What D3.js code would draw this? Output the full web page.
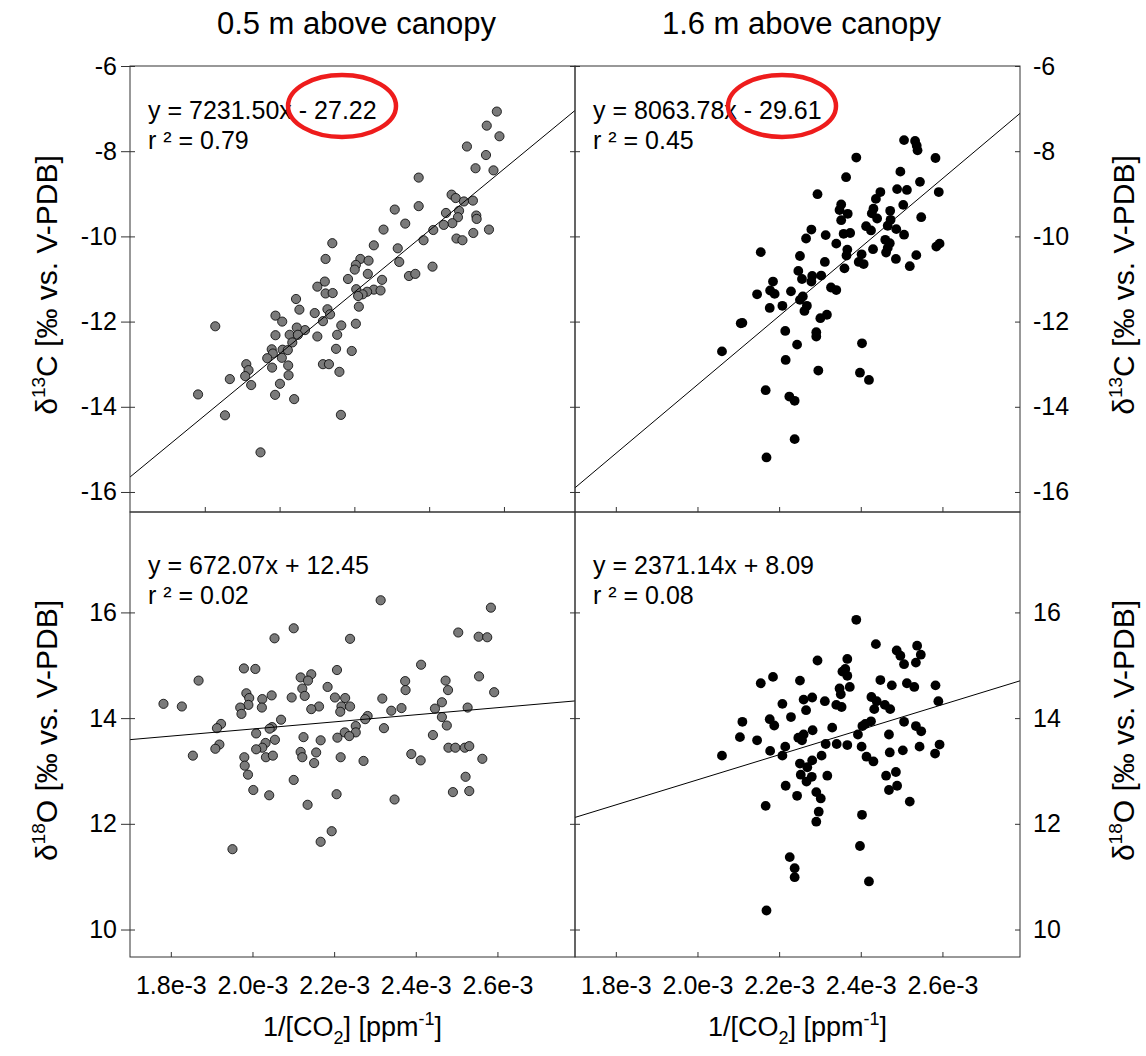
<!DOCTYPE html>
<html>
<head>
<meta charset="utf-8">
<style>
  body { margin: 0; background: #fff; }
  svg text { font-family: "Liberation Sans", Arial, sans-serif; fill: #000; }
</style>
</head>
<body>
<svg id="chart"></svg>

<script src="https://d3js.org/d3.v7.min.js"></script>

<script>
// x values: 1/[CO2] in units of 1e-3 ppm^-1
const invCo2C05 = [2.581,2.554,2.588,2.501,2.552,2.524,2.572,2.372,2.460,2.471,2.493,2.517,2.372,2.308,2.445,2.480,2.526,2.527,2.477,2.462,2.439,2.336,2.278,2.411,2.560,2.518,2.473,2.489,2.385,2.141,2.252,2.316,2.123,2.216,2.238,2.204,2.201,2.320,2.409,2.236,2.346,2.363,2.183,2.274,2.121,2.101,2.205,2.252,2.270,2.123,2.142,2.234,2.222,2.210,2.044,2.053,2.128,2.212,2.094,2.135,1.989,2.007,2.116,2.204,2.165,2.068,2.046,1.989,2.027,2.049,2.101,2.154,2.034,1.828,1.979,2.008,2.022,2.151,2.193,1.982,1.967,2.006,1.911,2.023,2.116,2.132,1.980,1.917,2.160,1.908,2.024,1.867,1.924,2.001,1.782,1.988,2.039,1.854,2.164,1.949];
const d13C05 = [-7.07,-7.40,-7.65,-7.89,-8.09,-8.40,-8.45,-8.62,-9.02,-9.10,-9.18,-9.16,-9.29,-9.37,-9.45,-9.40,-9.51,-9.59,-9.55,-9.69,-9.73,-9.70,-9.84,-9.85,-9.84,-9.92,-10.05,-10.09,-10.09,-10.16,-10.21,-10.28,-10.53,-10.53,-10.57,-10.67,-10.78,-10.60,-10.71,-10.88,-10.93,-10.88,-11.00,-11.02,-11.06,-11.18,-11.24,-11.25,-11.27,-11.34,-11.33,-11.30,-11.36,-11.40,-11.47,-11.72,-11.71,-11.65,-11.80,-11.83,-11.86,-12.00,-11.99,-12.05,-12.09,-12.20,-12.14,-12.32,-12.31,-12.31,-12.35,-12.31,-12.49,-12.11,-12.65,-12.66,-12.67,-12.64,-12.69,-12.75,-12.86,-12.85,-13.00,-13.03,-13.00,-13.00,-13.08,-13.14,-13.18,-13.28,-13.26,-13.35,-13.49,-13.46,-13.71,-13.72,-13.82,-14.20,-14.19,-15.07];

const invCo2C16 = [2.506,2.533,2.537,2.539,2.389,2.583,2.497,2.364,2.545,2.489,2.513,2.591,2.448,2.294,2.437,2.352,2.504,2.431,2.348,2.368,2.472,2.427,2.440,2.352,2.473,2.548,2.466,2.413,2.425,2.487,2.279,2.358,2.374,2.314,2.506,2.266,2.460,2.471,2.340,2.585,2.593,2.367,2.430,2.466,2.155,2.251,2.402,2.462,2.365,2.536,2.486,2.312,2.395,2.407,2.360,2.520,2.247,2.303,2.281,2.256,2.185,2.279,2.178,2.229,2.189,2.146,2.327,2.340,2.258,2.251,2.208,2.177,2.268,2.262,2.317,2.301,2.106,2.110,2.215,2.291,2.291,2.403,2.244,2.060,2.216,2.296,2.398,2.420,2.167,2.225,2.238,2.238,2.169];
const d13C16 = [-7.74,-7.76,-7.87,-7.98,-8.15,-8.16,-8.48,-8.61,-8.72,-8.89,-8.91,-8.96,-8.96,-9.01,-9.12,-9.25,-9.26,-9.35,-9.38,-9.47,-9.40,-9.46,-9.58,-9.62,-9.61,-9.55,-9.75,-9.76,-9.86,-9.83,-9.84,-9.94,-9.92,-9.97,-9.96,-10.05,-10.08,-10.16,-10.17,-10.24,-10.17,-10.31,-10.30,-10.27,-10.37,-10.46,-10.42,-10.38,-10.45,-10.44,-10.53,-10.60,-10.60,-10.65,-10.75,-10.70,-10.81,-10.92,-10.93,-11.00,-11.06,-11.06,-11.27,-11.29,-11.35,-11.36,-11.20,-11.26,-11.41,-11.49,-11.63,-11.68,-11.63,-11.75,-11.84,-11.92,-12.04,-12.03,-12.22,-12.25,-12.35,-12.51,-12.54,-12.70,-12.90,-13.15,-13.20,-13.37,-13.61,-13.76,-13.86,-14.76,-15.19];

const invCo2O05 = [2.314,2.584,2.101,2.504,2.054,2.239,2.554,2.575,2.413,1.979,2.007,2.207,2.555,2.144,2.118,2.136,1.868,2.374,2.473,2.184,2.122,2.375,2.479,1.985,2.592,2.128,2.047,2.096,1.992,2.024,2.202,2.227,2.318,1.782,1.827,1.990,1.970,2.023,2.163,2.144,2.218,2.239,2.215,2.464,2.447,2.527,2.365,2.340,1.973,2.070,2.282,2.276,2.464,1.923,1.913,2.048,2.042,2.253,2.322,2.476,2.009,2.226,2.253,2.237,2.125,2.208,2.167,2.055,2.442,1.919,2.032,2.024,2.009,1.909,2.480,2.497,2.520,2.531,2.118,2.156,1.854,1.980,2.033,2.050,2.122,2.216,2.389,2.412,2.272,2.563,2.151,1.981,1.989,2.522,2.101,2.002,2.491,2.531,2.041,2.206,2.348,2.135,2.194,2.167,1.951];
const d18O05 = [16.23,16.09,15.70,15.62,15.51,15.50,15.54,15.53,15.01,14.94,14.93,14.91,14.79,14.83,14.77,14.71,14.71,14.70,14.71,14.59,14.56,14.53,14.53,14.47,14.49,14.42,14.43,14.39,14.38,14.36,14.39,14.38,14.37,14.27,14.22,14.25,14.20,14.20,14.22,14.17,14.22,14.22,14.12,14.30,14.18,14.20,14.19,14.14,14.08,13.97,14.04,13.98,14.02,13.89,13.81,13.83,13.80,13.85,13.81,13.86,13.71,13.73,13.73,13.66,13.64,13.63,13.58,13.59,13.68,13.50,13.53,13.44,13.41,13.42,13.44,13.44,13.44,13.47,13.36,13.35,13.29,13.26,13.26,13.29,13.26,13.26,13.32,13.20,13.19,13.23,13.15,13.10,12.93,12.89,12.83,12.64,12.60,12.62,12.54,12.56,12.46,12.36,11.86,11.66,11.52];

const invCo2O16 = [2.389,2.437,2.538,2.488,2.547,2.497,2.294,2.367,2.506,2.535,2.362,2.355,2.367,2.185,2.155,2.251,2.448,2.476,2.513,2.531,2.583,2.373,2.348,2.351,2.260,2.281,2.312,2.426,2.439,2.208,2.340,2.353,2.459,2.472,2.433,2.590,2.266,2.229,2.177,2.188,2.110,2.506,2.330,2.425,2.411,2.404,2.535,2.548,2.282,2.260,2.247,2.256,2.104,2.146,2.469,2.393,2.314,2.341,2.367,2.593,2.215,2.544,2.178,2.208,2.402,2.304,2.471,2.503,2.582,2.414,2.060,2.251,2.281,2.431,2.269,2.253,2.280,2.267,2.318,2.486,2.462,2.216,2.489,2.469,2.291,2.302,2.244,2.520,2.167,2.297,2.403,2.291,2.398,2.226,2.238,2.238,2.420,2.169];
const d18O16 = [15.86,15.40,15.37,15.28,15.20,15.18,15.09,15.12,15.02,15.05,14.93,14.88,14.80,14.78,14.66,14.71,14.72,14.62,14.66,14.59,14.62,14.59,14.56,14.45,14.35,14.39,14.32,14.40,14.32,14.27,14.25,14.21,14.25,14.17,14.17,14.32,14.15,14.02,13.98,13.86,13.93,13.93,13.82,13.94,13.89,13.85,13.85,13.75,13.77,13.69,13.63,13.58,13.64,13.58,13.69,13.69,13.51,13.51,13.49,13.50,13.46,13.46,13.38,13.29,13.46,13.29,13.35,13.39,13.33,13.27,13.29,13.14,13.20,13.18,13.07,12.93,12.89,12.80,12.91,12.98,12.91,12.72,12.72,12.64,12.60,12.48,12.53,12.42,12.34,12.23,12.17,12.04,11.58,11.37,11.16,10.99,10.91,10.36];

// regression results printed in each panel (order: C 0.5, C 1.6, O 0.5, O 1.6)
const slopes = [7231.50, 8063.78, 672.07, 2371.14];
const intercepts = [-27.22, -29.61, 12.45, 8.09];
const equations = ["y = 7231.50x - 27.22", "y = 8063.78x - 29.61", "y = 672.07x + 12.45", "y = 2371.14x + 8.09"];
const r2Labels = ["r ² = 0.79", "r ² = 0.45", "r ² = 0.02", "r ² = 0.08"];

const columnTitles = ["0.5 m above canopy", "1.6 m above canopy"];
const xTicks = [1.8, 2.0, 2.2, 2.4, 2.6];
const xTickLabels = ["1.8e-3", "2.0e-3", "2.2e-3", "2.4e-3", "2.6e-3"];
const yTicksC = [-6, -8, -10, -12, -14, -16];
const yTicksO = [10, 12, 14, 16];

const width = 1146, height = 1056;
const colX = [130, 575], colW = 445;
const rowY = [66, 512], rowH = [446, 445];
const font = '"Liberation Sans", Arial, sans-serif';

const svg = d3.select("#chart").attr("width", width).attr("height", height);

const panels = [
    { xs: invCo2C05, ys: d13C05, col: 0, row: 0, xDom: [1.6, 2.79], yDom: [-16.47, -6], yTicks: yTicksC, fill: "#7a7a7a", stroke: "#000", r: 4.6 },
    { xs: invCo2C16, ys: d13C16, col: 1, row: 0, xDom: [1.7, 2.79], yDom: [-16.47, -6], yTicks: yTicksC, fill: "#000", stroke: "none", r: 4.9 },
    { xs: invCo2O05, ys: d18O05, col: 0, row: 1, xDom: [1.7, 2.79], yDom: [9.48, 17.9], yTicks: yTicksO, fill: "#7a7a7a", stroke: "#000", r: 4.6 },
    { xs: invCo2O16, ys: d18O16, col: 1, row: 1, xDom: [1.7, 2.79], yDom: [9.48, 17.9], yTicks: yTicksO, fill: "#000", stroke: "none", r: 4.9 }
];

panels.forEach(function(p, i) {
    const x0 = colX[p.col], y0 = rowY[p.row], h = rowH[p.row];
    const x = d3.scaleLinear().domain(p.xDom).range([x0, x0 + colW]);
    const y = d3.scaleLinear().domain(p.yDom).range([y0 + h, y0]);

    const clipId = "clip" + i;
    svg.append("clipPath").attr("id", clipId)
        .append("rect").attr("x", x0).attr("y", y0).attr("width", colW).attr("height", h);

    const g = svg.append("g");

    // inward ticks on every side except the top
    const inner = [
        { ax: d3.axisRight(y), t: "translate(" + x0 + ",0)" },
        { ax: d3.axisLeft(y), t: "translate(" + (x0 + colW) + ",0)" }
    ];
    inner.forEach(function(d) {
        g.append("g").attr("transform", d.t)
            .call(d.ax.tickValues(p.yTicks).tickSize(5).tickFormat(""))
            .call(s => s.select(".domain").remove())
            .selectAll("line").attr("stroke", "#333");
    });
    g.append("g").attr("transform", "translate(0," + (y0 + h) + ")")
        .call(d3.axisTop(x).tickValues(xTicks).tickSize(5).tickFormat(""))
        .call(s => s.select(".domain").remove())
        .selectAll("line").attr("stroke", "#333");

    // scatter points
    g.append("g").attr("clip-path", "url(#" + clipId + ")")
        .selectAll("circle")
        .data(p.xs.map((v, k) => [v, p.ys[k]]))
        .enter()
        .append("circle")
        .attr("cx", d => x(d[0]))
        .attr("cy", d => y(d[1]))
        .attr("r", p.r)
        .attr("fill", p.fill)
        .attr("stroke", p.stroke)
        .attr("stroke-width", 0.8);

    // regression line from the printed equation
    const fit = d => slopes[i] * d * 1e-3 + intercepts[i];
    g.append("line").attr("clip-path", "url(#" + clipId + ")")
        .attr("x1", x(p.xDom[0])).attr("y1", y(fit(p.xDom[0])))
        .attr("x2", x(p.xDom[1])).attr("y2", y(fit(p.xDom[1])))
        .attr("stroke", "#000").attr("stroke-width", 1);

    // frame
    g.append("rect")
        .attr("x", x0).attr("y", y0).attr("width", colW).attr("height", h)
        .attr("fill", "none").attr("stroke", "#333").attr("stroke-width", 1);

    // equation text
    const eqY = p.row === 0 ? y0 + 53 : y0 + 62;
    g.append("text").attr("x", x0 + 18).attr("y", eqY)
        .style("font-size", "25px").text(equations[i]);
    g.append("text").attr("x", x0 + 18).attr("y", eqY + 30)
        .style("font-size", "25px").text(r2Labels[i]);

    // outer tick labels (plain hyphen for negatives, as in the source)
    const yFmt = d => String(d);
    if (p.col === 0) {
        g.append("g").attr("transform", "translate(" + x0 + ",0)")
            .call(d3.axisLeft(y).tickValues(p.yTicks).tickSize(9).tickPadding(4).tickFormat(yFmt))
            .call(s => s.select(".domain").remove())
            .call(s => s.selectAll("line").attr("stroke", "#333"))
            .call(s => s.selectAll("text").style("font-size", "25px").style("font-family", font).attr("fill", "#000"));
    } else {
        g.append("g").attr("transform", "translate(" + (x0 + colW) + ",0)")
            .call(d3.axisRight(y).tickValues(p.yTicks).tickSize(0).tickPadding(13).tickFormat(yFmt))
            .call(s => s.select(".domain").remove())
            .call(s => s.selectAll("text").style("font-size", "25px").style("font-family", font).attr("fill", "#000"));
    }
    if (p.row === 1) {
        g.append("g").attr("transform", "translate(0," + (y0 + h) + ")")
            .call(d3.axisBottom(x).tickValues(xTicks).tickSize(0).tickPadding(19).tickFormat((d, k) => xTickLabels[k]))
            .call(s => s.select(".domain").remove())
            .call(s => s.selectAll("text").style("font-size", "25px").style("font-family", font).attr("fill", "#000"));
    }
});

// red highlight ellipses around the intercepts
[[342, 106], [782, 106]].forEach(function(c) {
    svg.append("ellipse").attr("cx", c[0]).attr("cy", c[1]).attr("rx", 54).attr("ry", 31)
        .attr("fill", "none").attr("stroke", "#ee1c1c").attr("stroke-width", 4.5);
});

// column titles
columnTitles.forEach(function(t, k) {
    svg.append("text").attr("x", colX[k] + colW / 2 + 4).attr("y", 34)
        .attr("text-anchor", "middle").style("font-size", "31px").text(t);
});

// x axis titles
colX.forEach(function(cx) {
    const t = svg.append("text").attr("x", cx + colW / 2).attr("y", 1036)
        .attr("text-anchor", "middle").style("font-size", "27px");
    t.append("tspan").text("1/[CO");
    t.append("tspan").attr("dy", 8).style("font-size", "18px").text("2");
    t.append("tspan").attr("dy", -8).text("] [ppm");
    t.append("tspan").attr("dy", -11).style("font-size", "18px").text("-1");
    t.append("tspan").attr("dy", 11).text("]");
});

// y axis titles, both sides
const yTitles = [["13", "C"], ["18", "O"]];
[57, 1134].forEach(function(bx) {
    yTitles.forEach(function(yt, r) {
        const cy = rowY[r] + rowH[r] / 2 - 4;
        const t = svg.append("text")
            .attr("transform", "translate(" + bx + "," + cy + ") rotate(-90)")
            .attr("text-anchor", "middle").style("font-size", "30px");
        t.append("tspan").text("δ");
        t.append("tspan").attr("dy", -12).style("font-size", "19px").text(yt[0]);
        t.append("tspan").attr("dy", 12).text(yt[1] + " [‰ vs. V-PDB]");
    });
});
</script>
</body>
</html>
